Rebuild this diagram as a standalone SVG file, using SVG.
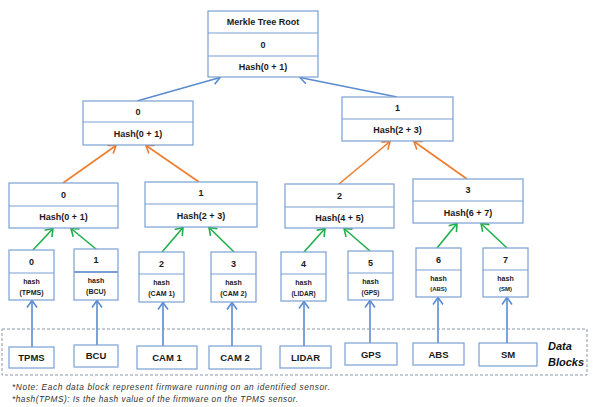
<svg xmlns="http://www.w3.org/2000/svg" width="598" height="407" viewBox="0 0 598 407">
<defs>
<style>
.box{fill:#fff;stroke:#7b9fd3;stroke-width:1.2}
.div{stroke:#7b9fd3;stroke-width:1.2}
.t{font-family:"Liberation Sans",Arial,sans-serif;font-weight:bold;fill:#1a1a1a;text-anchor:middle}
.t9{font-size:9px}
.t7{font-size:7px}
.tb{font-size:9.5px}
.blue{stroke:#5b8bd0;stroke-width:1.6;fill:none}
.green{stroke:#1fb04a;stroke-width:1.6;fill:none}
.orange{stroke:#ee7d2e;stroke-width:1.6;fill:none}
.note{font-family:"Liberation Sans",Arial,sans-serif;font-style:italic;font-size:8.3px;fill:#333}
</style>
<marker id="ab" viewBox="-8 -6 9 12" refX="0" refY="0" markerWidth="9" markerHeight="12" markerUnits="userSpaceOnUse" orient="auto"><path d="M-7,-5 L0,0 L-7,5" fill="none" stroke="#5b8bd0" stroke-width="1.6"/></marker>
<marker id="ag" viewBox="-8 -6 9 12" refX="0" refY="0" markerWidth="9" markerHeight="12" markerUnits="userSpaceOnUse" orient="auto"><path d="M-7,-5 L0,0 L-7,5" fill="none" stroke="#1fb04a" stroke-width="1.6"/></marker>
<marker id="ao" viewBox="-8 -6 9 12" refX="0" refY="0" markerWidth="9" markerHeight="12" markerUnits="userSpaceOnUse" orient="auto"><path d="M-7,-5 L0,0 L-7,5" fill="none" stroke="#ee7d2e" stroke-width="1.6"/></marker>
</defs>
<rect width="598" height="407" fill="#fff"/>

<g id="connectors">
<line class="blue" x1="137" y1="101" x2="220" y2="77.5" marker-end="url(#ab)"/>
<line class="blue" x1="397" y1="97" x2="300" y2="77.5" marker-end="url(#ab)"/>
<line class="orange" x1="63" y1="183" x2="116" y2="145.5" marker-end="url(#ao)"/>
<line class="orange" x1="199" y1="182" x2="146" y2="145.5" marker-end="url(#ao)"/>
<line class="orange" x1="339" y1="184" x2="390" y2="141.5" marker-end="url(#ao)"/>
<line class="orange" x1="467" y1="179" x2="414" y2="141.5" marker-end="url(#ao)"/>
<line class="green" x1="33" y1="250" x2="53" y2="228.5" marker-end="url(#ag)"/>
<line class="green" x1="96" y1="249" x2="71" y2="228.5" marker-end="url(#ag)"/>
<line class="green" x1="162" y1="252" x2="183" y2="227.5" marker-end="url(#ag)"/>
<line class="green" x1="234" y1="252" x2="209" y2="227.5" marker-end="url(#ag)"/>
<line class="green" x1="304" y1="252" x2="325" y2="228.5" marker-end="url(#ag)"/>
<line class="green" x1="370" y1="251" x2="344" y2="228.5" marker-end="url(#ag)"/>
<line class="green" x1="437" y1="248" x2="457" y2="223.5" marker-end="url(#ag)"/>
<line class="green" x1="507" y1="248" x2="481" y2="223.5" marker-end="url(#ag)"/>
<line class="blue" x1="32" y1="347" x2="32" y2="300.5" marker-end="url(#ab)"/>
<line class="blue" x1="97" y1="345" x2="97" y2="300.5" marker-end="url(#ab)"/>
<line class="blue" x1="163" y1="346" x2="163" y2="302.5" marker-end="url(#ab)"/>
<line class="blue" x1="232" y1="346" x2="232" y2="302.5" marker-end="url(#ab)"/>
<line class="blue" x1="304" y1="346" x2="304" y2="301.5" marker-end="url(#ab)"/>
<line class="blue" x1="370" y1="343" x2="370" y2="300.5" marker-end="url(#ab)"/>
<line class="blue" x1="438" y1="343" x2="438" y2="297.5" marker-end="url(#ab)"/>
<line class="blue" x1="507" y1="343" x2="507" y2="297.5" marker-end="url(#ab)"/>
</g>

<g id="root">
<rect class="box" x="208" y="11" width="110" height="66"/>
<line class="div" x1="208" y1="33" x2="318" y2="33"/>
<line class="div" x1="208" y1="56" x2="318" y2="56"/>
<text class="t t9" x="263" y="25">Merkle Tree Root</text>
<text class="t t9" x="263" y="48">0</text>
<text class="t t9" x="263" y="70">Hash(0  + 1)</text>
</g>

<g id="l1-0">
<rect class="box" x="83" y="101" width="110" height="44"/>
<line class="div" x1="83" y1="122" x2="193" y2="122"/>
<text class="t t9" x="138" y="115">0</text>
<text class="t t9" x="138" y="137">Hash(0  + 1)</text>
</g>
<g id="l1-1">
<rect class="box" x="342" y="97" width="111" height="44"/>
<line class="div" x1="342" y1="119" x2="453" y2="119"/>
<text class="t t9" x="397.5" y="111">1</text>
<text class="t t9" x="397.5" y="133">Hash(2  + 3)</text>
</g>

<g id="l2-0">
<rect class="box" x="9" y="183" width="109" height="45"/>
<line class="div" x1="9" y1="206" x2="118" y2="206"/>
<text class="t t9" x="63.5" y="197.5">0</text>
<text class="t t9" x="63.5" y="220">Hash(0  + 1)</text>
</g>
<g id="l2-1">
<rect class="box" x="145" y="182" width="112" height="45"/>
<line class="div" x1="145" y1="204" x2="257" y2="204"/>
<text class="t t9" x="201" y="196">1</text>
<text class="t t9" x="201" y="218.5">Hash(2  + 3)</text>
</g>
<g id="l2-2">
<rect class="box" x="285" y="184" width="109" height="44"/>
<line class="div" x1="285" y1="207" x2="394" y2="207"/>
<text class="t t9" x="339.5" y="198.5">2</text>
<text class="t t9" x="339.5" y="220.5">Hash(4  + 5)</text>
</g>
<g id="l2-3">
<rect class="box" x="413" y="179" width="110" height="44"/>
<line class="div" x1="413" y1="201" x2="523" y2="201"/>
<text class="t t9" x="468" y="193">3</text>
<text class="t t9" x="468" y="215.5">Hash(6  + 7)</text>
</g>

<g id="leaf-0">
<rect class="box" x="9" y="250" width="45" height="50"/>
<line class="div" x1="9" y1="273" x2="54" y2="273"/>
<text class="t t9" x="31.5" y="265">0</text>
<text class="t t7" x="31.5" y="284">hash</text>
<text class="t t7" x="31.5" y="295">(TPMS)</text>
</g>
<g id="leaf-1">
<rect class="box" x="74" y="249" width="44" height="51"/>
<line class="div" x1="74" y1="272" x2="118" y2="272" style="stroke-width:2"/>
<text class="t t9" x="96" y="263">1</text>
<text class="t t7" x="96" y="283">hash</text>
<text class="t t7" x="96" y="294">(BCU)</text>
</g>
<g id="leaf-2">
<rect class="box" x="139" y="252" width="45" height="50"/>
<line class="div" x1="139" y1="274" x2="184" y2="274"/>
<text class="t t9" x="161.5" y="266.5">2</text>
<text class="t t7" x="161.5" y="285">hash</text>
<text class="t t7" x="161.5" y="296">(CAM 1)</text>
</g>
<g id="leaf-3">
<rect class="box" x="211" y="252" width="45" height="50"/>
<line class="div" x1="211" y1="274" x2="256" y2="274"/>
<text class="t t9" x="233.5" y="266.5">3</text>
<text class="t t7" x="233.5" y="285">hash</text>
<text class="t t7" x="233.5" y="296">(CAM 2)</text>
</g>
<g id="leaf-4">
<rect class="box" x="281" y="252" width="45" height="49"/>
<line class="div" x1="281" y1="274" x2="326" y2="274"/>
<text class="t t9" x="303.5" y="266.5">4</text>
<text class="t t7" x="303.5" y="285">hash</text>
<text class="t" style="font-size:6.5px" x="303.5" y="295.5">(LIDAR)</text>
</g>
<g id="leaf-5">
<rect class="box" x="348" y="251" width="45" height="49"/>
<line class="div" x1="348" y1="273" x2="393" y2="273"/>
<text class="t t9" x="370.5" y="265.5">5</text>
<text class="t t7" x="370.5" y="284">hash</text>
<text class="t" style="font-size:6.5px" x="370.5" y="294.5">(GPS)</text>
</g>
<g id="leaf-6">
<rect class="box" x="416" y="248" width="45" height="49"/>
<line class="div" x1="416" y1="270" x2="461" y2="270"/>
<text class="t t9" x="438.5" y="263">6</text>
<text class="t t7" x="438.5" y="281">hash</text>
<text class="t" style="font-size:6px" x="438.5" y="291">(ABS)</text>
</g>
<g id="leaf-7">
<rect class="box" x="483" y="248" width="45" height="49"/>
<line class="div" x1="483" y1="270" x2="528" y2="270"/>
<text class="t t9" x="505.5" y="263">7</text>
<text class="t t7" x="505.5" y="281">hash</text>
<text class="t" style="font-size:6px" x="505.5" y="291">(SM)</text>
</g>

<g id="data-blocks">
<rect x="2" y="329" width="585" height="46" fill="none" stroke="#8a97a8" stroke-width="1" stroke-dasharray="3,2"/>
<text x="548" y="350" style="font-family:'Liberation Sans',Arial,sans-serif;font-weight:bold;font-style:italic;font-size:11px;fill:#111">Data</text>
<text x="548" y="366" style="font-family:'Liberation Sans',Arial,sans-serif;font-weight:bold;font-style:italic;font-size:11px;fill:#111">Blocks</text>
</g>
<g id="db-tpms"><rect class="box" x="9" y="347" width="45" height="21"/><text class="t tb" x="31.5" y="361">TPMS</text></g>
<g id="db-bcu"><rect class="box" x="74" y="345" width="44" height="22"/><text class="t tb" x="96" y="359">BCU</text></g>
<g id="db-cam1"><rect class="box" x="137" y="346" width="60" height="23"/><text class="t tb" x="167" y="361">CAM 1</text></g>
<g id="db-cam2"><rect class="box" x="209" y="346" width="52" height="23"/><text class="t tb" x="235" y="361">CAM 2</text></g>
<g id="db-lidar"><rect class="box" x="280" y="346" width="51" height="22"/><text class="t tb" x="305.5" y="360.5">LIDAR</text></g>
<g id="db-gps"><rect class="box" x="345" y="343" width="52" height="22"/><text class="t tb" x="371" y="357.5">GPS</text></g>
<g id="db-abs"><rect class="box" x="413" y="343" width="51" height="22"/><text class="t tb" x="438.5" y="357.5">ABS</text></g>
<g id="db-sm"><rect class="box" x="479" y="343" width="58" height="23"/><text class="t tb" x="508" y="358">SM</text></g>

<g id="notes">
<text class="note" x="12" y="390" textLength="318" lengthAdjust="spacing">*Note:  Each data block represent  firmware  running  on an identified  sensor.</text>
<text class="note" x="12" y="402" textLength="286" lengthAdjust="spacing">*hash(TPMS):  Is the hash value of the firmware  on the TPMS sensor.</text>
</g>
</svg>
